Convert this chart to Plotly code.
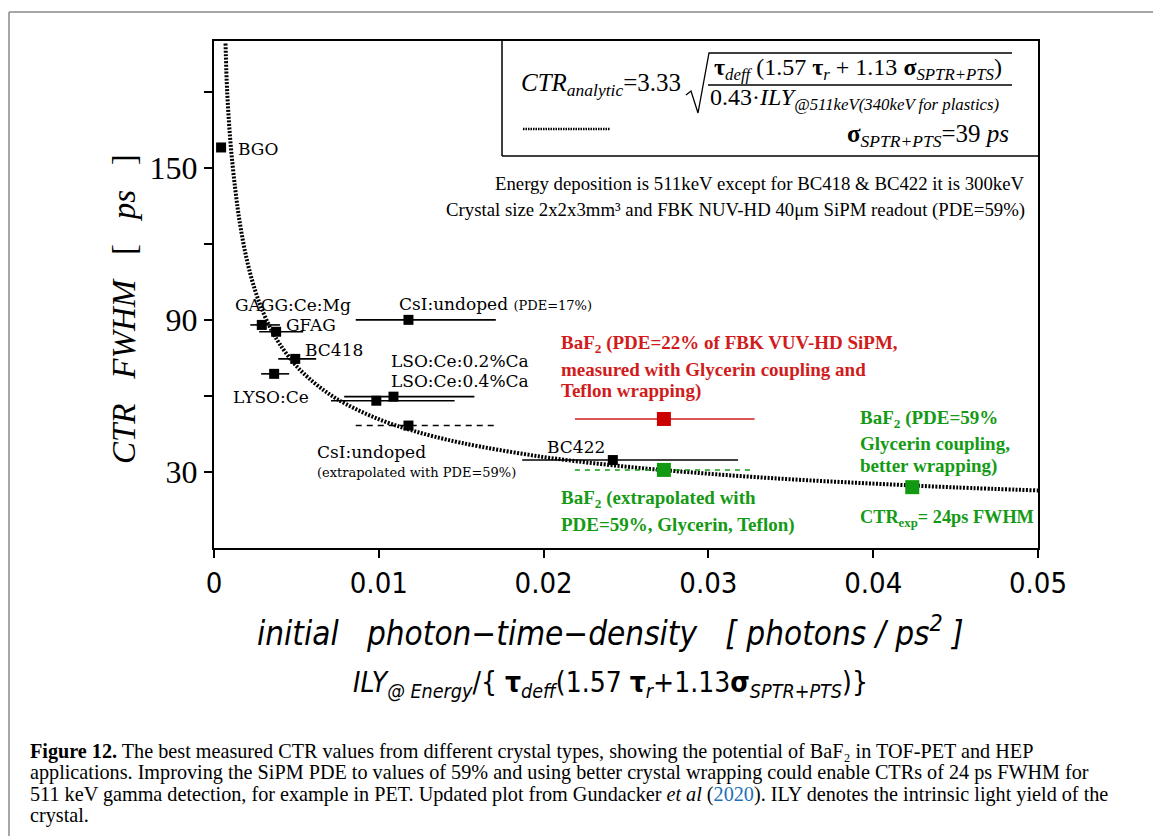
import plotly.graph_objects as go

# ---------------- data ----------------
crystals = ["BGO", "GAGG:Ce:Mg", "GFAG", "BC418", "LYSO:Ce",
            "LSO:Ce:0.2%Ca", "LSO:Ce:0.4%Ca", "CsI:undoped", "BC422"]
ptd_x = [0.00043, 0.0029, 0.00377, 0.00493, 0.00365, 0.01089, 0.00985, 0.0118, 0.0242]
ctr_y = [158.0, 88.0, 85.3, 74.6, 68.7, 59.7, 58.1, 90.0, 34.7]
ptd_lo = [0.00043, 0.0022, 0.00274, 0.0039, 0.00286, 0.0079, 0.0071, 0.0086, 0.0187]
ptd_hi = [0.00043, 0.0040, 0.00541, 0.0062, 0.00456, 0.0158, 0.0146, 0.0171, 0.0318]

csi_ext_x = [0.0118]
csi_ext_y = [48.3]
csi_ext_range = [0.0086, 0.0171]

baf2_meas_x = [0.0273]
baf2_meas_y = [50.9]
baf2_meas_lo = [0.0219]
baf2_meas_hi = [0.0328]

baf2_ext_x = [0.0273]
baf2_ext_y = [30.8]
baf2_ext_range = [0.0219, 0.0328]

baf2_best_x = [0.04237]
baf2_best_y = [24.0]

curve_x = [0.0007, 0.0008, 0.001, 0.0013, 0.0016, 0.002, 0.0025, 0.003, 0.0035, 0.004,
           0.005, 0.006, 0.007, 0.008, 0.01, 0.012, 0.015, 0.02, 0.025, 0.03,
           0.035, 0.04, 0.045, 0.05]
curve_y = [199, 180, 160, 141, 127, 113.5, 101.5, 92.7, 85.8, 80.3,
           71.8, 65.6, 60.7, 56.8, 50.8, 46.4, 41.5, 35.9, 32.1, 29.3,
           27.1, 25.4, 23.9, 22.7]

x_ticks = [0, 0.01, 0.02, 0.03, 0.04, 0.05]
x_ticklabels = ["0", "0.01", "0.02", "0.03", "0.04", "0.05"]
y_ticks = [30, 60, 90, 120, 150, 180]
y_ticklabels = ["30", "", "90", "", "150", ""]

# ---------------- layout helpers ----------------
W, H = 1153, 836
L, R, T, B = 214, 1038, 41, 548
RED = "#d01c1c"
GREEN = "#159a15"
SERIF = "Liberation Serif, Times New Roman, serif"
DSERIF = "DejaVu Serif, serif"
NARROW = "DejaVu Sans Condensed, Liberation Sans, Arial, sans-serif"
NB = "\u00a0"


def px(x):
    return (x - L) / (R - L)


def py(y):
    return (B - y) / (B - T)


annotations = []


def ann(text, x, y, size=17, color="black", family=DSERIF, xanchor="left",
        yanchor="middle", angle=0):
    annotations.append(dict(text=text, x=px(x), y=py(y), xref="paper", yref="paper",
                            xanchor=xanchor, yanchor=yanchor, showarrow=False,
                            textangle=angle,
                            font=dict(size=size, color=color, family=family)))


fig = go.Figure()

# analytic curve
fig.add_trace(go.Scatter(x=curve_x, y=curve_y, mode="lines", line_shape="spline",
                         line=dict(color="black", width=4, dash="2px,1.5px"),
                         hoverinfo="skip"))

# dashed extrapolated ranges
fig.add_trace(go.Scatter(x=csi_ext_range, y=[csi_ext_y[0]] * 2, mode="lines",
                         line=dict(color="black", width=1.5, dash="6px,5px")))
fig.add_trace(go.Scatter(x=baf2_ext_range, y=[baf2_ext_y[0]] * 2, mode="lines",
                         line=dict(color=GREEN, width=1.5, dash="5px,5px")))

# measured crystals
fig.add_trace(go.Scatter(
    x=ptd_x, y=ctr_y, mode="markers",
    marker=dict(symbol="square", size=10, color="black"),
    error_x=dict(type="data", symmetric=False,
                 array=[h - x for h, x in zip(ptd_hi, ptd_x)],
                 arrayminus=[x - l for l, x in zip(ptd_lo, ptd_x)],
                 color="black", thickness=1.6, width=0)))
fig.add_trace(go.Scatter(x=csi_ext_x, y=csi_ext_y, mode="markers",
                         marker=dict(symbol="square", size=10, color="black")))

# BaF2
fig.add_trace(go.Scatter(
    x=baf2_meas_x, y=baf2_meas_y, mode="markers",
    marker=dict(symbol="square", size=14, color="#cc0000"),
    error_x=dict(type="data", symmetric=False,
                 array=[baf2_meas_hi[0] - baf2_meas_x[0]],
                 arrayminus=[baf2_meas_x[0] - baf2_meas_lo[0]],
                 color=RED, thickness=1.4, width=0)))
fig.add_trace(go.Scatter(x=baf2_ext_x + baf2_best_x, y=baf2_ext_y + baf2_best_y,
                         mode="markers",
                         marker=dict(symbol="square", size=14, color="#119911")))

# ---------------- text labels ----------------
ann("BGO", 236, 149)
ann("GAGG:Ce:Mg", 233, 305)
ann("GFAG", 284, 325)
ann("BC418", 303, 350)
ann("LYSO:Ce", 231, 397)
ann("LSO:Ce:0.2%Ca", 389, 361)
ann("LSO:Ce:0.4%Ca", 389, 381)
ann("CsI:undoped <span style='font-size:13px'>(PDE=17%)</span>", 397, 304)
ann("CsI:undoped", 315, 452)
ann("(extrapolated with PDE=59%)", 315, 472, size=13)
ann("BC422", 545, 447)

bold = SERIF
BS = 19
ann("<b>BaF<sub>2</sub> (PDE=22% of FBK VUV-HD SiPM,</b>", 559, 344, BS, RED, bold)
ann("<b>measured with Glycerin coupling and</b>", 559, 369, BS, RED, bold)
ann("<b>Teflon wrapping)</b>", 559, 391, BS, RED, bold)

ann("<b>BaF<sub>2</sub> (PDE=59%</b>", 858, 419, BS, GREEN, bold)
ann("<b>Glycerin coupling,</b>", 858, 443, BS, GREEN, bold)
ann("<b>better wrapping)</b>", 858, 466, BS, GREEN, bold)
ann("<b>CTR<sub>exp</sub>= 24ps FWHM</b>", 858, 518, 18.3, GREEN, bold)
ann("<b>BaF<sub>2</sub> (extrapolated with</b>", 559, 499, BS, GREEN, bold)
ann("<b>PDE=59%, Glycerin, Teflon)</b>", 559, 525, BS, GREEN, bold)

ann("Energy deposition is 511keV except for BC418 &amp; BC422 it is 300keV",
    1027, 183, 18.8, family=SERIF, xanchor="right")
ann("Crystal size 2x2x3mm³ and FBK NUV-HD 40μm SiPM readout (PDE=59%)",
    1027, 210, 18.8, family=SERIF, xanchor="right")

# formula box content
ann("<i>CTR</i><sub><i>analytic</i></sub>=3.33", 519, 84, 25, family=SERIF)
ann("<b>τ</b><sub><i>deff</i></sub>" + NB + "(1.57" + NB + "<b>τ</b><sub><i>r</i></sub>" + NB
    + "+" + NB + "1.13" + NB + "<b>σ</b><sub><i>SPTR+PTS</i></sub>)",
    858, 69, 24, family=SERIF, xanchor="center")
ann("0.43·<i>ILY</i><sub><i>@511keV(340keV for plastics)</i></sub>",
    708, 99, 24, family=SERIF)
ann("<b>σ</b><sub><i>SPTR+PTS</i></sub>=39 <i>ps</i>", 1011, 136, 25, family=SERIF,
    xanchor="right")

# axis titles
ann("<i>CTR" + NB * 3 + "FWHM</i>" + NB * 3 + "[" + NB * 3 + "<i>ps</i>" + NB * 3 + "]",
    124, 309, 33, family=SERIF, xanchor="center", angle=-90)
ann("<i>initial" + NB * 3 + "photon−time−density" + NB * 3 + "[" + NB + "photons" + NB + "/" + NB
    + "ps<sup>2</sup>" + NB + "]</i>",
    610, 631, 33, family=NARROW, xanchor="center")
ann("<i>ILY</i><sub><i>@ Energy</i></sub>/{" + NB + "<b>τ</b><sub><i>deff</i></sub>(1.57" + NB
    + "<b>τ</b><sub><i>r</i></sub>+1.13<b>σ</b><sub><i>SPTR+PTS</i></sub>)}",
    610, 684, 28, family=NARROW, xanchor="center")

# caption
CAP = "Liberation Serif, Times New Roman, serif"
cap_lines = [
    "<b>Figure 12.</b> The best measured CTR values from different crystal types, showing the potential of BaF₂ in TOF-PET and HEP",
    "applications. Improving the SiPM PDE to values of 59% and using better crystal wrapping could enable CTRs of 24 ps FWHM for",
    "511 keV gamma detection, for example in PET. Updated plot from Gundacker <i>et al</i> (<span style='color:#1f6fb8'>2020</span>). ILY denotes the intrinsic light yield of the",
    "crystal.",
]
for i, t in enumerate(cap_lines):
    ann(t, 28, 751 + i * 21.5, 20.2, family=CAP)

# ---------------- shapes ----------------
shapes = []


def line(x0, y0, x1, y1, color="black", width=1.5, dash=None):
    d = dict(type="line", xref="paper", yref="paper", x0=px(x0), y0=py(y0),
             x1=px(x1), y1=py(y1), line=dict(color=color, width=width))
    if dash:
        d["line"]["dash"] = dash
    shapes.append(d)


# outer figure frame
line(9, 12, 1153, 12, "#8a8a8a", 1.5)
line(9, 12, 9, 836, "#8a8a8a", 1.5)
# formula box
line(502, 41, 502, 156, "black", 1.5)
line(502, 156, 1038, 156, "black", 1.5)
# radical sign and fraction bar
shapes.append(dict(type="path", xref="paper", yref="paper",
                   path="M {},{} L {},{} L {},{} L {},{} L {},{}".format(
                       px(686), py(95), px(691), py(91), px(698), py(113),
                       px(709), py(53), px(1012), py(53)),
                   line=dict(color="black", width=1.3)))
line(708, 85, 1012, 85, "black", 1.3)
# legend sample
line(523, 129, 610, 129, "black", 2.5, "1.5px,1px")

fig.update_layout(
    width=W, height=H,
    margin=dict(l=L, r=W - R, t=T, b=H - B, autoexpand=False),
    paper_bgcolor="white", plot_bgcolor="white",
    showlegend=False,
    annotations=annotations,
    shapes=shapes,
    xaxis=dict(range=[0, 0.05], tickvals=x_ticks, ticktext=x_ticklabels,
               showgrid=False, zeroline=False, showline=True, mirror=True,
               linecolor="black", linewidth=2, ticks="outside", ticklen=8,
               tickwidth=1.5, tickcolor="black",
               tickfont=dict(family=NARROW, size=29, color="black")),
    yaxis=dict(range=[0, 200], tickvals=y_ticks, ticktext=y_ticklabels,
               showgrid=False, zeroline=False, showline=True, mirror=True,
               linecolor="black", linewidth=2, ticks="outside", ticklen=8,
               tickwidth=1.5, tickcolor="black",
               tickfont=dict(family=SERIF, size=32, color="black")),
)

fig.write_html("out.html")
